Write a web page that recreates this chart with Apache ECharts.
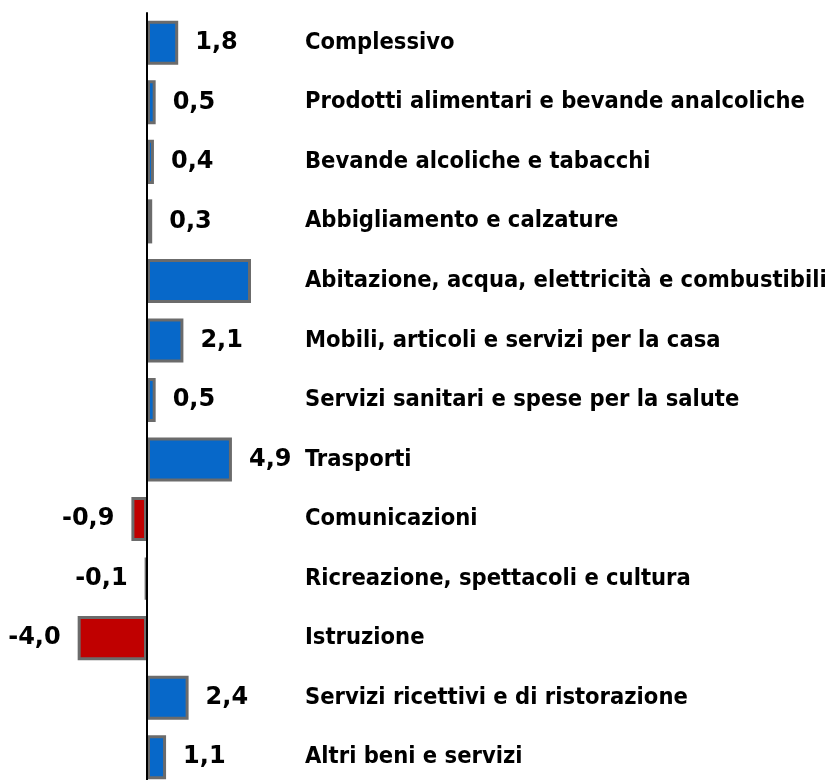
<!DOCTYPE html>
<html>
<head>
<meta charset="utf-8">
<script src="https://cdn.jsdelivr.net/npm/echarts@6/dist/echarts.min.js"></script>
<style>
html,body{margin:0;padding:0;background:#fff}
#chart{width:833px;height:780px}
</style>
</head>
<body>
<div id="chart"></div>
<script>
// categorie dall'alto in basso
var categorie=[
    'Complessivo',
    'Prodotti alimentari e bevande analcoliche',
    'Bevande alcoliche e tabacchi',
    'Abbigliamento e calzature',
    'Abitazione, acqua, elettricità e combustibili',
    'Mobili, articoli e servizi per la casa',
    'Servizi sanitari e spese per la salute',
    'Trasporti',
    'Comunicazioni',
    'Ricreazione, spettacoli e cultura',
    'Istruzione',
    'Servizi ricettivi e di ristorazione',
    'Altri beni e servizi'
];
var valori=[1.8,0.5,0.4,0.3,6.0,2.1,0.5,4.9,-0.9,-0.1,-4.0,2.4,1.1];
var senzaEtichetta=['Abitazione, acqua, elettricità e combustibili'];   // barra tagliata, niente valore

var blu='#0768C9';
var rosso='#C00000';

function virgola(v) {
    return v.toFixed(1).replace('.',',');
}

var dati=[];
for (var i=0;i<valori.length;i++){
    var v=valori[i];
    dati.push({
        value:v,
        itemStyle:{color:v<0?rosso:blu},
        label:{
            show:senzaEtichetta.indexOf(categorie[i])<0,
            position:v<0?'left':'right'
        }
    });
}

var option={
    animation:false,
    grid:{left:43,top:13,width:208,height:774,outerBoundsMode:'none',containLabel:false},
    xAxis:{
        type:'value',
        min:-6,
        max:6,
        show:false
    },
    yAxis:{
        type:'category',
        inverse:true,
        data:categorie,
        z:3,
        axisLine:{show:true,onZero:true,lineStyle:{color:'#000',width:2}},
        axisTick:{show:false},
        axisLabel:{
            align:'left',
            margin:-262,          // le etichette restano sul bordo della griglia, non sullo zero
            color:'#000',
            fontFamily:"'Liberation Sans Narrow','DejaVu Sans Condensed',sans-serif",
            fontWeight:'bold',
            fontSize:23.5
        }
    },
    series:[{
        type:'bar',
        data:dati,
        barCategoryGap:'26%',
        itemStyle:{borderColor:'#6B6B6B',borderWidth:3},
        label:{
            distance:17,
            color:'#000',
            fontFamily:'DejaVu Sans',
            fontWeight:'bold',
            fontSize:24,
            formatter:function (p) {return virgola(p.value);}
        }
    }]
};

var myChart=echarts.init(document.getElementById('chart'));
myChart.setOption(option);
</script>
</body>
</html>
